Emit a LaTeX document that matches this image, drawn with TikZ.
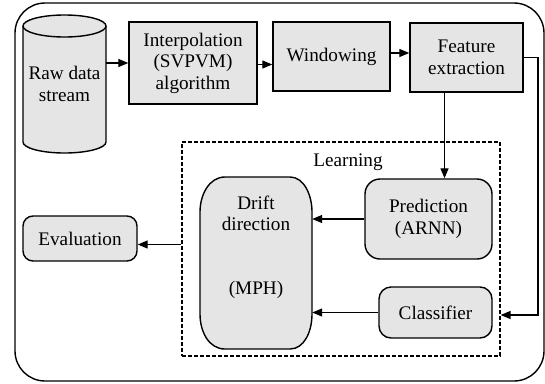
\documentclass[tikz,border=0pt]{standalone}
\usepackage{fontspec}
\setmainfont{Liberation Serif}
\usetikzlibrary{arrows.meta}
\definecolor{boxgray}{RGB}{229,229,229}
\begin{document}
\begin{tikzpicture}[x=1pt,y=-1pt,
  txt/.style={align=center, inner sep=0pt, font=\fontsize{19.2}{21.5}\selectfont},
  box/.style={txt, draw, line width=1.4pt, fill=boxgray},
  arr/.style={line width=1.3pt, -{Triangle[length=10pt,width=8pt]}}]
\useasboundingbox (0,0) rectangle (545,383);
% outer frame
\node[draw, line width=1.4pt, rounded corners=30pt, minimum width=529pt, minimum height=378pt, inner sep=0pt] (frame) at (279.5,192) {};
% cylinder
\fill[boxgray] (23,26) -- (23,142) arc[start angle=180,end angle=0,x radius=41.5,y radius=11] -- (106,26) -- cycle;
\draw[line width=1.4pt] (23,26) -- (23,142) arc[start angle=180,end angle=0,x radius=41.5,y radius=11] -- (106,26);
\draw[line width=1.4pt, fill=boxgray] (64.5,26) ellipse [x radius=41.5, y radius=11];
\node[txt, minimum width=83pt, minimum height=138pt] (raw) at (64.5,84) {Raw data\\stream};
% top row
\node[box, minimum width=128pt, minimum height=82pt] (interp) at (193,63) {Interpolation\\(SVPVM)\\algorithm};
\node[box, minimum width=117pt, minimum height=69pt] (win) at (331.5,56.5) {Windowing};
\node[box, minimum width=113pt, minimum height=69pt] (feat) at (466.5,57.5) {Feature\\extraction};
% learning
\node[draw, line width=1.2pt, dash pattern=on 4pt off 2pt, minimum width=318pt, minimum height=214pt, inner sep=0pt] (learn) at (341,249) {};
\node[txt] (learnlbl) at (348,162) {Learning};
\draw[line width=1.4pt, fill=boxgray] (225,177) -- (290,177) .. controls (304,177) and (312,195) .. (312,212) -- (312,314) .. controls (312,332) and (304,349) .. (290,349) -- (225,349) .. controls (209,349) and (200,332) .. (200,314) -- (200,212) .. controls (200,195) and (209,177) .. (225,177) -- cycle;
\node[txt, minimum width=112pt, minimum height=172pt] (drift) at (256,263) {};
\node[txt] (drifttxt) at (256,247) {Drift\\direction\\[42pt](MPH)};
\node[box, rounded corners=15pt, minimum width=127pt, minimum height=80pt] (pred) at (428.5,219) {Prediction\\(ARNN)};
\node[box, rounded corners=12pt, minimum width=113pt, minimum height=51pt] (cls) at (435.5,312.5) {Classifier};
\node[box, rounded corners=10pt, minimum width=114pt, minimum height=45pt] (eval) at (80,238.5) {Evaluation};
% connectors
\draw[arr] (raw.east |- interp.west) -- (interp.west);
\coordinate (iw) at ([yshift=-1.5pt]interp.east);
\draw[arr] (iw) -- (iw -| win.west);
\coordinate (wf) at ([yshift=3.5pt]win.east);
\draw[arr] (wf) -- (wf -| feat.west);
\coordinate (fdown) at ([xshift=-22pt]feat.south);
\draw[arr] (fdown) -- (fdown |- pred.north);
\coordinate (turn) at (538,315);
\draw[arr] (feat.east) -| (turn) -- (turn -| learn.east);
\draw[arr] (pred.west) -- (pred.west -| drift.east);
\draw[arr] (cls.west) -- (cls.west -| drift.east);
\coordinate (evalin) at ([yshift=-6pt]eval.east);
\draw[arr] (evalin -| learn.west) -- (evalin);
\end{tikzpicture}
\end{document}
